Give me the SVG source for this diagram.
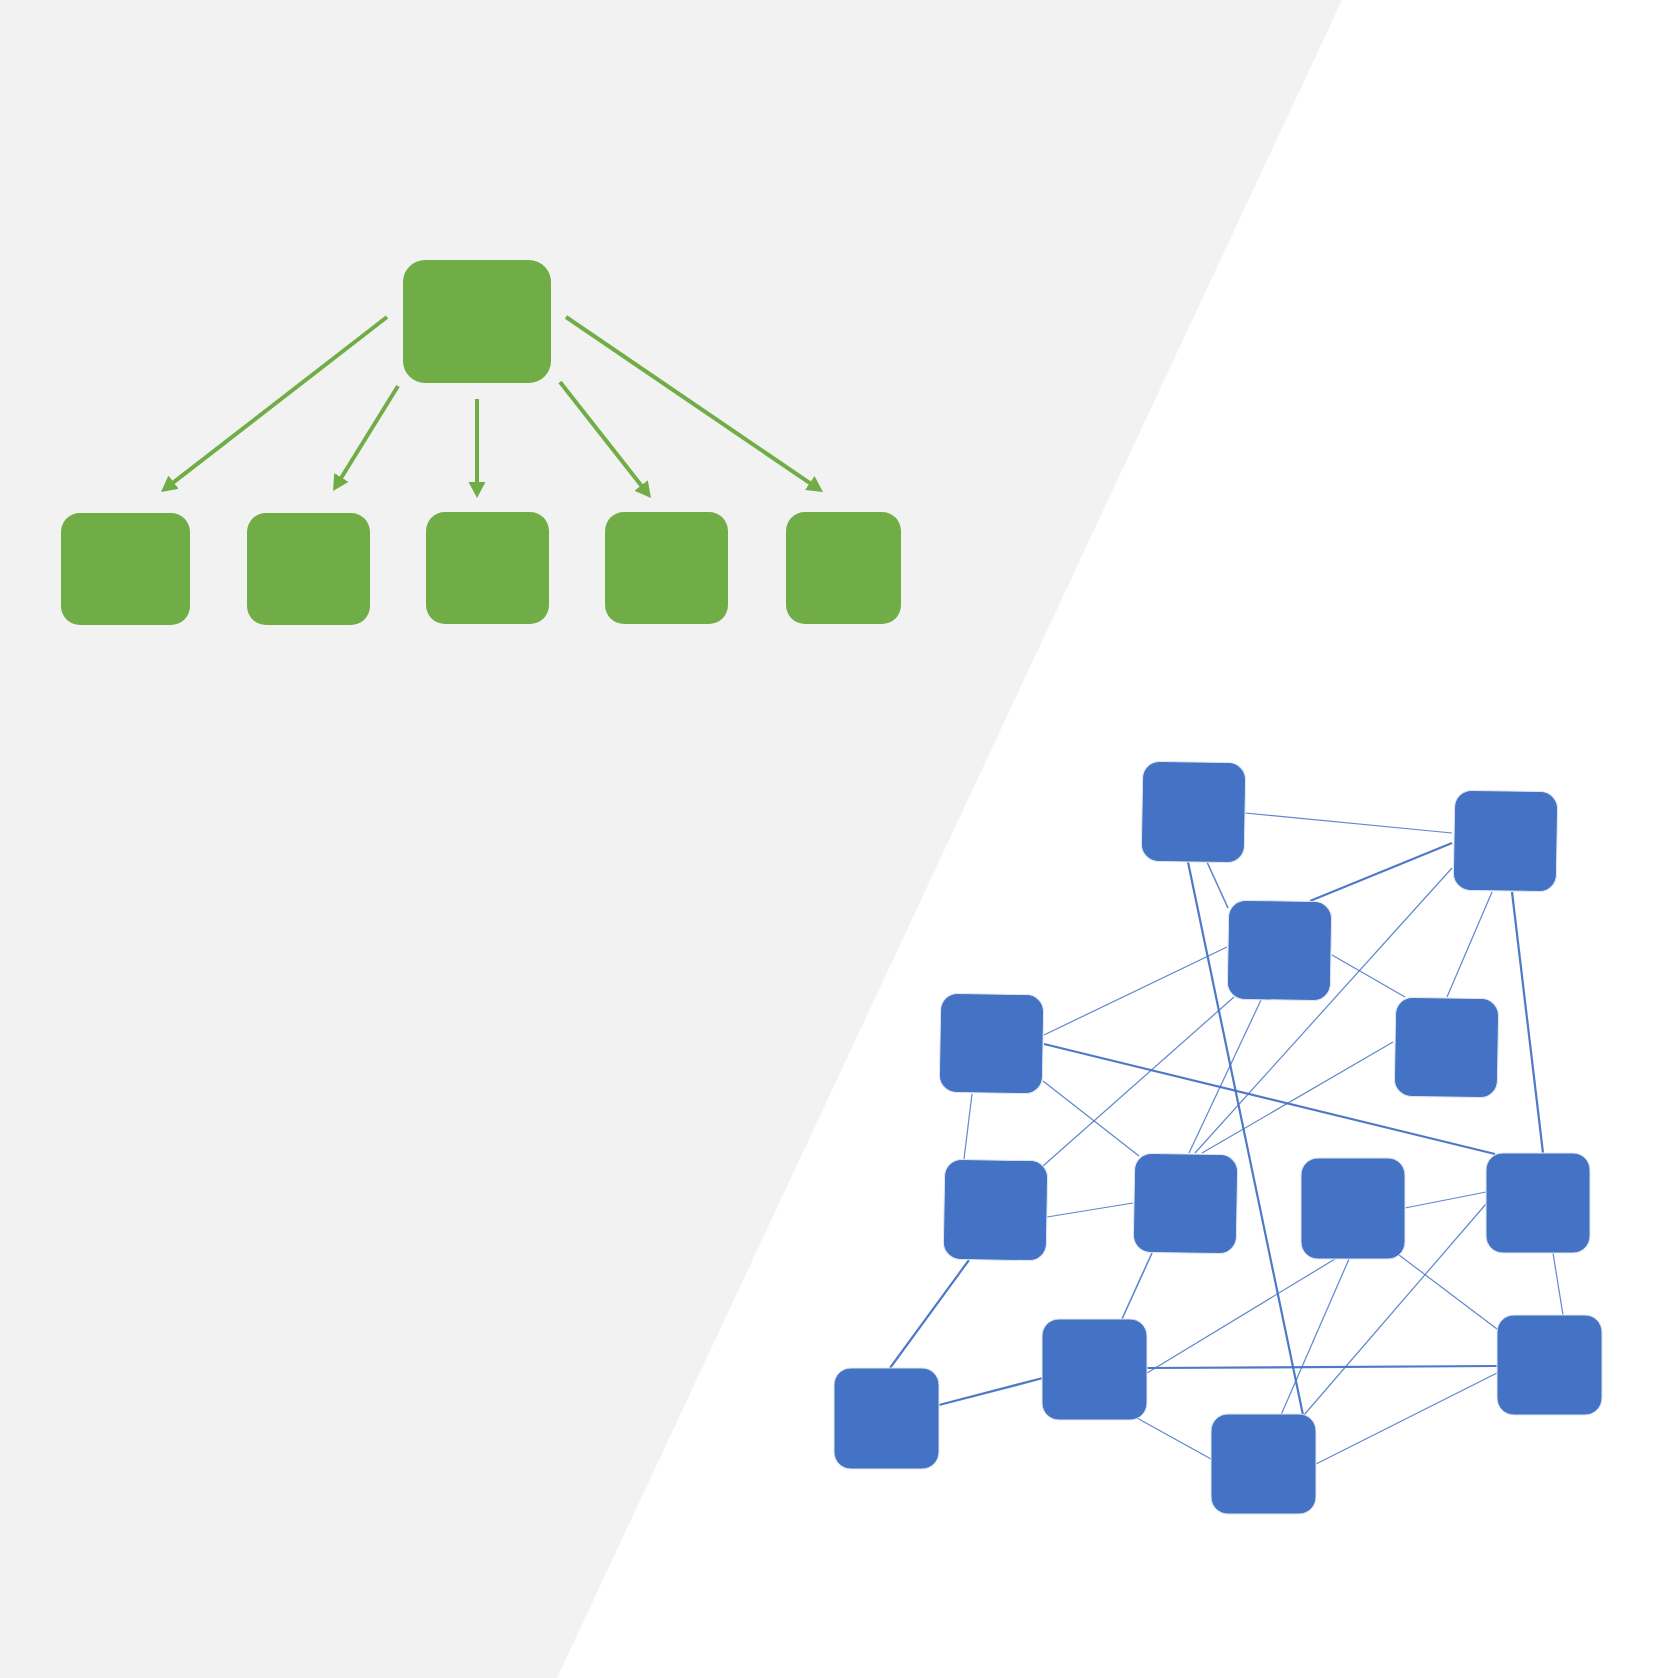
<svg xmlns="http://www.w3.org/2000/svg" width="1678" height="1678" viewBox="0 0 1678 1678">
<style>
.g{fill:#70ad47}
.ga{stroke:#70ad47;stroke-width:4;fill:none;marker-end:url(#ah)}
.b{fill:#4472c4;stroke:#dfe7f5;stroke-width:1}
.e{stroke:#4472c4;stroke-width:1.2;fill:none;stroke-opacity:0.85}
.t{stroke-width:2.2;stroke-opacity:0.95}
.m{stroke-width:1.6}
</style>
<defs>
<marker id="ah" markerUnits="userSpaceOnUse" markerWidth="18" markerHeight="18" refX="6" refY="8.5" orient="auto">
<path d="M0,0 L16,8.5 L0,17 Z" fill="#70ad47"/>
</marker>
</defs>
<rect width="1678" height="1678" fill="#ffffff"/>
<polygon points="0,0 1342,0 557,1678 0,1678" fill="#f2f2f2"/>

<g id="tree-connectors">
<line class="ga" x1="387" y1="317" x2="168.9" y2="485.9"/>
<line class="ga" x1="398" y1="386" x2="338.3" y2="482.5"/>
<line class="ga" x1="477" y1="399" x2="477" y2="488"/>
<line class="ga" x1="560" y1="382" x2="644.8" y2="490.1"/>
<line class="ga" x1="566" y1="317" x2="814.7" y2="486.4"/>
</g>
<g id="root"><rect class="g" x="403" y="260" width="148" height="123" rx="22"/></g>
<g id="child1"><rect class="g" x="61" y="513" width="129" height="112" rx="19"/></g>
<g id="child2"><rect class="g" x="247" y="513" width="123" height="112" rx="19"/></g>
<g id="child3"><rect class="g" x="426" y="512" width="123" height="112" rx="19"/></g>
<g id="child4"><rect class="g" x="605" y="512" width="123" height="112" rx="19"/></g>
<g id="child5"><rect class="g" x="786" y="512" width="115" height="112" rx="19"/></g>

<g id="network-connectors">
<line class="e" x1="1245" y1="813" x2="1452" y2="833" stroke-opacity="0.6"/>
<line class="e m" x1="1207" y1="862" x2="1228" y2="908"/>
<line class="e t" x1="1188" y1="862" x2="1303" y2="1415"/>
<line class="e t" x1="1452" y1="843" x2="1310" y2="901"/>
<line class="e" x1="1452" y1="868" x2="1195" y2="1153"/>
<line class="e" x1="1492" y1="892" x2="1447" y2="997"/>
<line class="e t" x1="1512" y1="892" x2="1543" y2="1153"/>
<line class="e" x1="1227" y1="947" x2="1044" y2="1035"/>
<line class="e" x1="1332" y1="955" x2="1405" y2="997"/>
<line class="e" x1="1234" y1="997" x2="1043" y2="1166"/>
<line class="e" x1="1261" y1="1000" x2="1189" y2="1153"/>
<line class="e t" x1="1044" y1="1044" x2="1495" y2="1154"/>
<line class="e" x1="1043" y1="1081" x2="1139" y2="1156"/>
<line class="e" x1="972" y1="1094" x2="964" y2="1159"/>
<line class="e" x1="1047" y1="1217" x2="1133" y2="1203"/>
<line class="e t" x1="969" y1="1260" x2="890" y2="1368"/>
<line class="e m" x1="1152" y1="1253" x2="1122" y2="1319"/>
<line class="e t" x1="939" y1="1405" x2="1043" y2="1378"/>
<line class="e t" x1="1147" y1="1368" x2="1497" y2="1366"/>
<line class="e" x1="1147" y1="1373" x2="1335" y2="1259"/>
<line class="e" x1="1137" y1="1418" x2="1211" y2="1459"/>
<line class="e" x1="1349" y1="1259" x2="1281" y2="1415"/>
<line class="e" x1="1405" y1="1208" x2="1486" y2="1192"/>
<line class="e" x1="1399" y1="1255" x2="1497" y2="1329"/>
<line class="e" x1="1486" y1="1204" x2="1304" y2="1415"/>
<line class="e" x1="1553" y1="1253" x2="1563" y2="1315"/>
<line class="e" x1="1497" y1="1373" x2="1316" y2="1464"/>
<line class="e" x1="1393" y1="1042" x2="1202" y2="1153"/>
</g>

<g id="nA"><rect class="b" x="1142" y="762" width="103" height="100" rx="17" transform="rotate(1 1193.5 812)"/></g>
<g id="nB"><rect class="b" x="1454" y="791" width="103" height="100" rx="17" transform="rotate(1 1505 841)"/></g>
<g id="nC"><rect class="b" x="1228" y="901" width="103" height="99" rx="17" transform="rotate(1 1279.5 950.5)"/></g>
<g id="nD"><rect class="b" x="1395" y="998" width="103" height="99" rx="17" transform="rotate(1 1446 1047.5)"/></g>
<g id="nE"><rect class="b" x="940" y="994" width="103" height="99" rx="17" transform="rotate(1 991 1043.5)"/></g>
<g id="nF"><rect class="b" x="944" y="1160" width="103" height="100" rx="17" transform="rotate(1 995 1210)"/></g>
<g id="nG"><rect class="b" x="1134" y="1154" width="103" height="99" rx="17" transform="rotate(1 1185 1203.5)"/></g>
<g id="nH"><rect class="b" x="1301" y="1158" width="104" height="101" rx="17"/></g>
<g id="nI"><rect class="b" x="1486" y="1153" width="104" height="100" rx="17"/></g>
<g id="nJ"><rect class="b" x="1497" y="1315" width="105" height="100" rx="17"/></g>
<g id="nK"><rect class="b" x="834" y="1368" width="105" height="101" rx="17"/></g>
<g id="nL"><rect class="b" x="1042" y="1319" width="105" height="101" rx="17"/></g>
<g id="nM"><rect class="b" x="1211" y="1414" width="105" height="100" rx="17"/></g>
</svg>
